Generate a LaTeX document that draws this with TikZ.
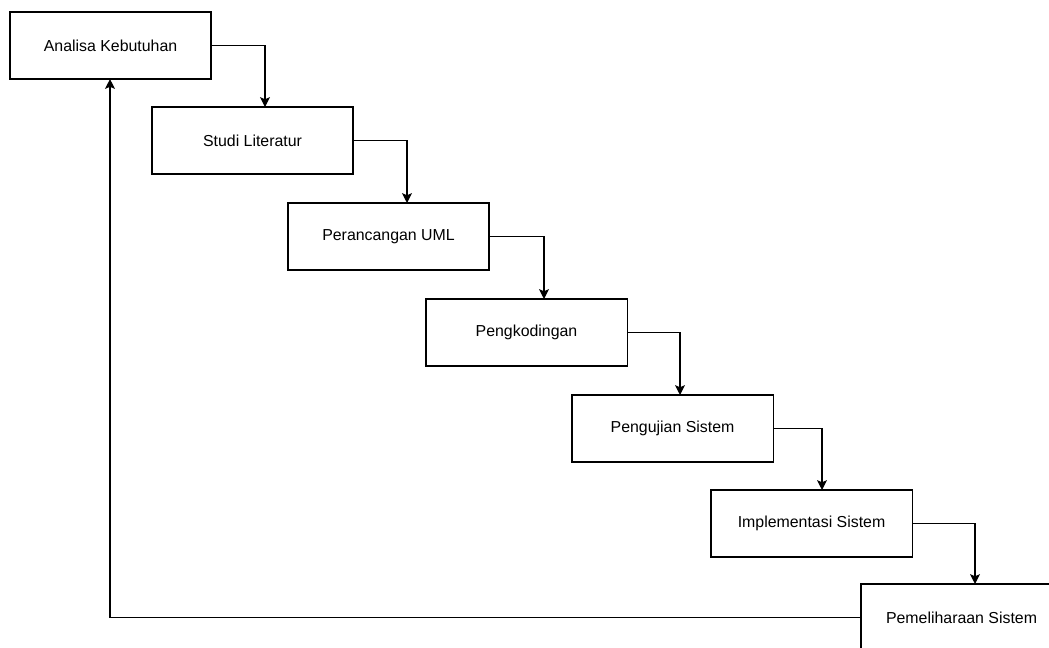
\documentclass[tikz,border=0pt]{standalone}
\usepackage{fontspec}
\setmainfont{Liberation Sans}
\usetikzlibrary{arrows.meta}
\usetikzlibrary{calc}

\begin{document}
\begin{tikzpicture}[x=0.025cm,y=-0.025cm] % 1 unit = 1 px
	\tikzset{stage/.style={draw,line width=0.8pt,minimum width=5.025cm,minimum height=1.675cm,inner sep=0pt,outer sep=0pt,anchor=north west,font=\fontsize{11.3}{13}\selectfont},
		flow/.style={line width=0.8pt,-{Stealth[length=7pt,width=7pt,inset=1.5pt]}}}
	
	% Canvas
	\useasboundingbox (0,0) rectangle (1049,647);
	\clip (0,0) rectangle (1049,647);
	
	% Stages of the waterfall
	\node[stage] (analisa) at (10,12) {Analisa Kebutuhan};
	\node[stage] (studi) at (152,107) {Studi Literatur};
	\node[stage] (uml) at (288,203) {Perancangan UML};
	\node[stage] (koding) at (426,299) {Pengkodingan};
	\node[stage] (uji) at (572,395) {Pengujian Sistem};
	\node[stage] (impl) at (711,490) {Implementasi Sistem};
	\node[stage] (pelihara) at (861,584) {Pemeliharaan Sistem};
	
	% Arrows going down the steps
	\draw[flow] (analisa.east) -| ($(studi.north west)+(113,0)$);
	\draw[flow] (studi.east) -| ($(uml.north west)+(119,0)$);
	\draw[flow] (uml.east) -| ($(koding.north west)+(118,0)$);
	\draw[flow] (koding.east) -| ($(uji.north west)+(108,0)$);
	\draw[flow] (uji.east) -| ($(impl.north west)+(111,0)$);
	\draw[flow] (impl.east) -| ($(pelihara.north west)+(114,0)$);
	
	% Feedback back to the first stage
	\draw[flow] (pelihara.west) -| ($(analisa.south west)+(100,0)$);
\end{tikzpicture}
\end{document}
